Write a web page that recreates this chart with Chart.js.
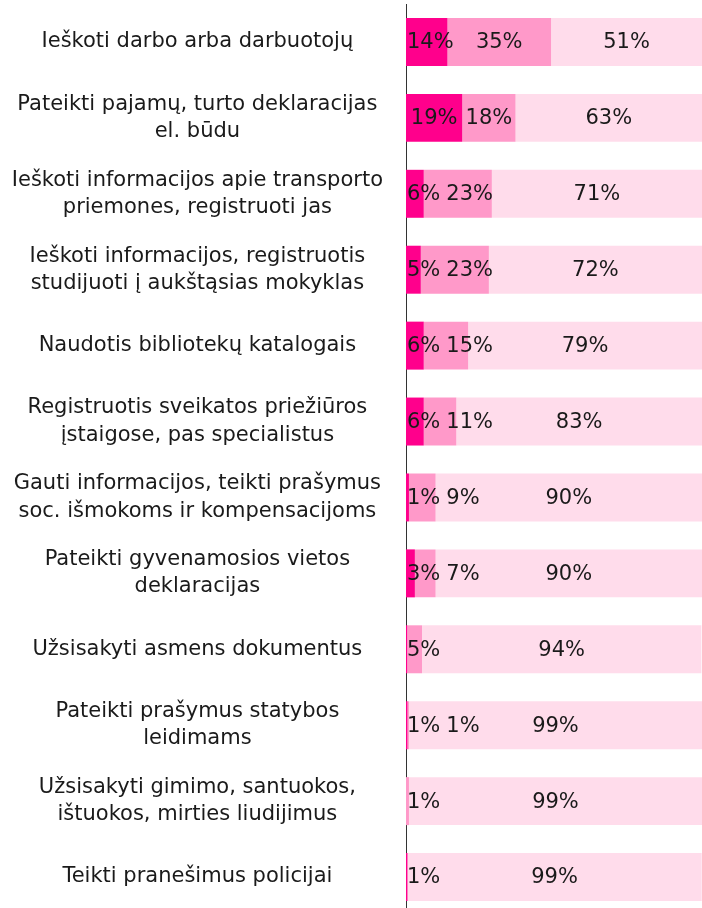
<!DOCTYPE html>
<html>
<head>
<meta charset="utf-8">
<script src="https://cdn.jsdelivr.net/npm/chart.js@4/dist/chart.umd.min.js"></script>
<style>
    html, body { margin: 0; padding: 0; background: #ffffff; overflow: hidden; }
    #wrap { width: 702px; height: 915px; }
</style>
</head>
<body>
<div id="wrap"><canvas id="servicesChart" width="702" height="915"></canvas></div>
<script>
// Paslaugos (eilutės iš viršaus į apačią)
const categories = [
    ['Ieškoti darbo arba darbuotojų'],
    ['Pateikti pajamų, turto deklaracijas', 'el. būdu'],
    ['Ieškoti informacijos apie transporto', 'priemones, registruoti jas'],
    ['Ieškoti informacijos, registruotis', 'studijuoti į aukštąsias mokyklas'],
    ['Naudotis bibliotekų katalogais'],
    ['Registruotis sveikatos priežiūros', 'įstaigose, pas specialistus'],
    ['Gauti informacijos, teikti prašymus', 'soc. išmokoms ir kompensacijoms'],
    ['Pateikti gyvenamosios vietos', 'deklaracijas'],
    ['Užsisakyti asmens dokumentus'],
    ['Pateikti prašymus statybos', 'leidimams'],
    ['Užsisakyti gimimo, santuokos,', 'ištuokos, mirties liudijimus'],
    ['Teikti pranešimus policijai']
];

// Procentai kiekvienai grupei
const seriesDark   = [14, 19, 6, 5, 6, 6, 1, 3, 0.4, 0.5, 0, 0.5];
const seriesMedium = [35, 18, 23, 23, 15, 11, 9, 7, 5, 0.5, 1, 0];
const seriesLight  = [51, 63, 71, 72, 79, 83, 90, 90, 94.4, 99, 99, 99.4];

const colors = ['#FF008C', '#FF99C9', '#FFDCEB'];
const fontFamily = '"DejaVu Sans", Verdana, sans-serif';

// Procentų užrašai ant juostų; maži užrašai pastumiami, kad nesusidurtų
const barLabels = {
    id: 'barLabels',
    afterDatasetsDraw(chart) {
        const ctx = chart.ctx;
        const area = chart.chartArea;
        ctx.save();
        ctx.font = '21px ' + fontFamily;
        ctx.fillStyle = '#1a1a1a';
        ctx.textAlign = 'left';
        ctx.textBaseline = 'middle';
        const gap = 6;
        chart.data.labels.forEach((_, i) => {
            let prevRight = area.left + 1 - gap;
            chart.data.datasets.forEach((ds, d) => {
                const val = ds.data[i];
                if (!val || val < 0.5) return;
                const bar = chart.getDatasetMeta(d).data[i];
                const p = bar.getProps(['x', 'y', 'base'], true);
                const text = Math.round(val) + '%';
                const w = ctx.measureText(text).width;
                const center = (p.x + p.base) / 2;
                const left = Math.max(center - w / 2, prevRight + gap);
                ctx.fillText(text, left, p.y + 1);
                prevRight = left + w;
            });
        });
        ctx.restore();
    }
};

const ctx = document.getElementById('servicesChart').getContext('2d');
new Chart(ctx, {
    type: 'bar',
    data: {
        labels: categories,
        datasets: [
            { data: seriesDark, backgroundColor: colors[0] },
            { data: seriesMedium, backgroundColor: colors[1] },
            { data: seriesLight, backgroundColor: colors[2] }
        ]
    },
    options: {
        indexAxis: 'y',
        responsive: false,
        animation: false,
        layout: { padding: { top: 4, right: 0, bottom: 0, left: 0 } },
        datasets: {
            bar: { barPercentage: 0.632, categoryPercentage: 1, borderWidth: 0 }
        },
        scales: {
            x: {
                stacked: true,
                display: false,
                min: 0,
                max: 100
            },
            y: {
                stacked: true,
                grid: { display: false },
                border: { display: true, color: '#333333', width: 1 },
                ticks: {
                    crossAlign: 'center',
                    padding: 15,
                    color: '#1a1a1a',
                    font: { family: fontFamily, size: 21, lineHeight: 1.3 }
                },
                afterFit(scale) {
                    // fixed label column, no extra space above/below the bars
                    scale.width = 406;
                    scale.paddingTop = 0;
                    scale.paddingBottom = 0;
                }
            }
        },
        plugins: {
            legend: { display: false },
            tooltip: { enabled: false }
        }
    },
    plugins: [barLabels]
});
</script>
</body>
</html>
